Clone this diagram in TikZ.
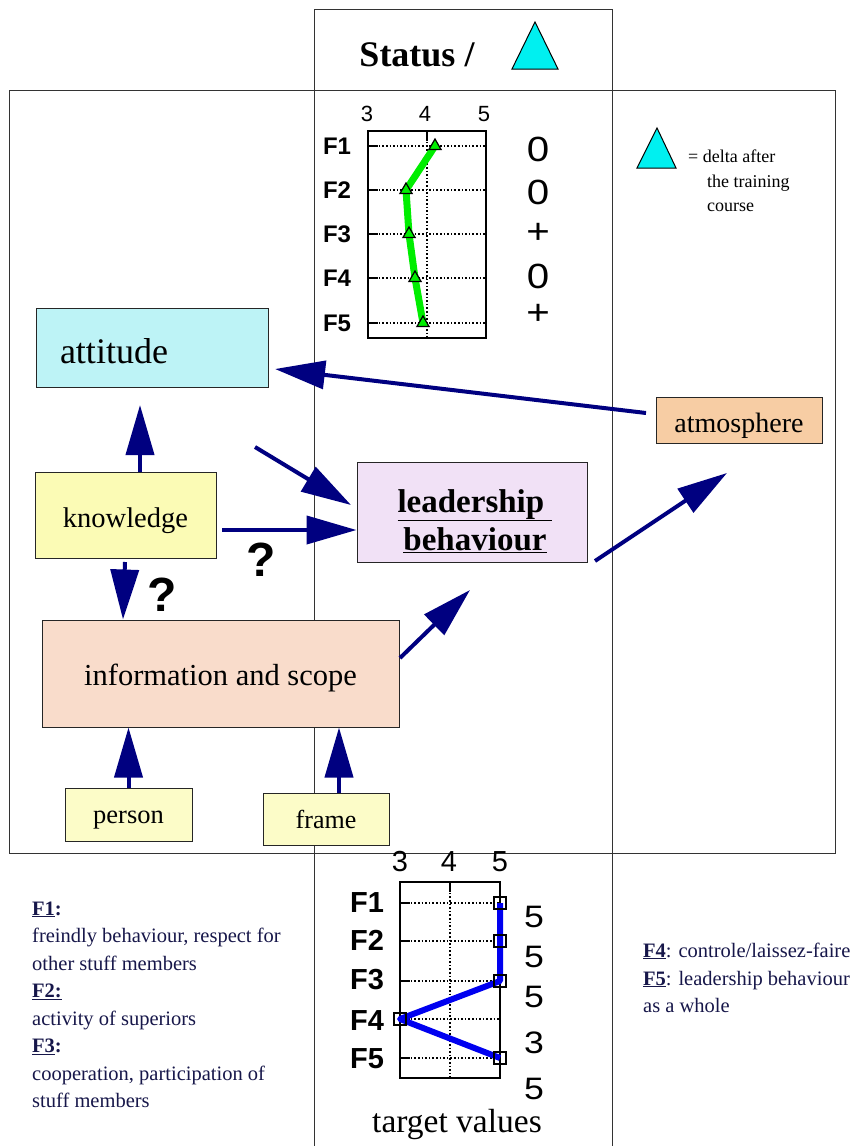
\documentclass[tikz,border=0pt]{standalone}
\usepackage{fontspec}
\usepackage{graphicx}
\setmainfont{Liberation Serif}
\newfontfamily\sansf{Liberation Sans}
\usetikzlibrary{arrows.meta,shapes.geometric}
\definecolor{navy}{HTML}{000080}
\definecolor{legtext}{HTML}{17174A}
\definecolor{attfill}{HTML}{BDF3F6}
\definecolor{knowfill}{HTML}{FBFBB5}
\definecolor{infofill}{HTML}{F9DCCB}
\definecolor{leadfill}{HTML}{F1E1F6}
\definecolor{atmofill}{HTML}{F7CDA4}
\definecolor{smallfill}{HTML}{FCFCC8}
\definecolor{tricyan}{HTML}{00F0F0}
\definecolor{plotgreen}{HTML}{00EE00}
\definecolor{plotblue}{HTML}{0000F0}
\newcommand{\wide}[1]{\scalebox{1.15}[1]{#1}}
\begin{document}
\begin{tikzpicture}[x=1pt,y=-1pt,
  frameline/.style={draw=black!80, line width=1pt},
  box/.style={draw=black!85, line width=1pt, inner sep=0pt, align=center, text depth=0pt},
  arr/.style={draw=navy, line width=4pt, -{Triangle[length=50pt,width=28pt]}},
  gridl/.style={line width=1.2pt, dash pattern=on 1.6pt off 2pt},
  tickl/.style={line width=1.2pt},
  axbox/.style={draw, line width=1.5pt},
  flabA/.style={font=\sansf\bfseries\fontsize{24}{24}\selectfont, inner sep=0pt},
  flabB/.style={font=\sansf\bfseries\fontsize{29}{29}\selectfont, inner sep=0pt},
  numA/.style={font=\sansf\fontsize{22}{22}\selectfont, inner sep=0pt},
  numB/.style={font=\sansf\fontsize{29}{29}\selectfont, inner sep=0pt},
  valA/.style={font=\sansf\fontsize{35}{35}\selectfont, inner sep=0pt},
  valB/.style={font=\sansf\fontsize{31}{31}\selectfont, inner sep=0pt},
  tri/.style={regular polygon, regular polygon sides=3, draw=black, fill=plotgreen, line width=1.2pt, minimum size=14pt, inner sep=0pt},
  sq/.style={rectangle, draw=black, line width=1.3pt, minimum size=12pt, inner sep=0pt},
  qmark/.style={font=\sansf\bfseries\fontsize{48}{48}\selectfont, inner sep=0pt},
  legl/.style={anchor=base west, inner sep=0pt, text=legtext, font=\fontsize{20.5}{24}\selectfont},
  deltal/.style={anchor=base west, inner sep=0pt, font=\fontsize{18}{20}\selectfont}
]
\useasboundingbox (0,0) rectangle (850,1146);
\fill[white] (0,0) rectangle (850,1146);

% frame lines
\draw[frameline] (9,90) rectangle (835,853);
\draw[frameline] (314,1146) -- (314,9) -- (612,9) -- (612,1146);

% title
\node[inner sep=0pt, font=\bfseries\fontsize{36}{36}\selectfont] (title) at (417,55) {Status /};
\filldraw[fill=tricyan, draw=black, line width=1pt] (512,69) -- (558,69) -- (535,22) -- cycle;

% legend
\filldraw[fill=tricyan, draw=black, line width=1pt] (637,168) -- (676,168) -- (657,128) -- cycle;
\node[deltal] (d1) at (688,162) {= delta after};
\node[deltal] (d2) at (707,187) {the training};
\node[deltal] (d3) at (707,211) {course};

% ---------- top chart ----------
\draw[axbox] (368,131) rectangle (486,338);
\foreach \yy in {146,190,234,278,323}{
  \draw[gridl] (368,\yy) -- (486,\yy);
  \draw[tickl] (368,\yy) -- (378,\yy);
}
\draw[gridl] (427,131) -- (427,338);
\draw[tickl] (427,131) -- (427,141);
\node[numA] (ta3) at (367,114) {3};
\node[numA] (ta4) at (425,114) {4};
\node[numA] (ta5) at (484,114) {5};
\node[flabA] (tf1) at (337,146) {F1};
\node[flabA] (tf2) at (337,190) {F2};
\node[flabA] (tf3) at (337,234) {F3};
\node[flabA] (tf4) at (337,278) {F4};
\node[flabA] (tf5) at (337,323) {F5};
\node[valA] (tv1) at (538,149) {\wide{0}};
\node[valA] (tv2) at (538,192) {\wide{0}};
\node[valA] (tv3) at (538,233) {\wide{+}};
\node[valA] (tv4) at (538,276) {\wide{0}};
\node[valA] (tv5) at (538,314) {\wide{+}};
\coordinate (g1) at (435,146);
\coordinate (g2) at (406,190);
\coordinate (g3) at (409,234);
\coordinate (g4) at (415,278);
\coordinate (g5) at (423,323);
\draw[plotgreen, line width=7pt, line join=round] (g1) -- (g2) -- (g3) -- (g4) -- (g5);
\node[tri] (m1) at (g1) {};
\node[tri] (m2) at (g2) {};
\node[tri] (m3) at (g3) {};
\node[tri] (m4) at (g4) {};
\node[tri] (m5) at (g5) {};

% ---------- bottom chart ----------
\draw[axbox] (400,882) rectangle (500,1078);
\foreach \yy in {903,941,981,1019,1058}{
  \draw[gridl] (400,\yy) -- (500,\yy);
  \draw[tickl] (400,\yy) -- (410,\yy);
}
\draw[gridl] (450,882) -- (450,1078);
\draw[tickl] (450,882) -- (450,892);
\node[numB] (ba3) at (400,862) {3};
\node[numB] (ba4) at (449,862) {4};
\node[numB] (ba5) at (500,862) {5};
\node[flabB] (bf1) at (367,903) {F1};
\node[flabB] (bf2) at (367,940) {F2};
\node[flabB] (bf3) at (367,980) {F3};
\node[flabB] (bf4) at (367,1021) {F4};
\node[flabB] (bf5) at (367,1059) {F5};
\node[valB] (bv1) at (534,917) {\wide{5}};
\node[valB] (bv2) at (534,957) {\wide{5}};
\node[valB] (bv3) at (534,997) {\wide{5}};
\node[valB] (bv4) at (534,1043) {\wide{3}};
\node[valB] (bv5) at (534,1089) {\wide{5}};
\coordinate (b1) at (500,903);
\coordinate (b2) at (500,941);
\coordinate (b3) at (500,981);
\coordinate (b4) at (400,1019);
\coordinate (b5) at (500,1058);
\draw[plotblue, line width=6pt, line join=round] (b1) -- (b2) -- (b3) -- (b4) -- (b5);
\node[sq] (q1) at (b1) {};
\node[sq] (q2) at (b2) {};
\node[sq] (q3) at (b3) {};
\node[sq] (q4) at (b4) {};
\node[sq] (q5) at (b5) {};
\node[anchor=base, inner sep=0pt, font=\fontsize{33.5}{34}\selectfont] (target) at (457,1132) {target values};

% ---------- boxes ----------
\node[box, fill=attfill, minimum height=79pt, text width=184pt, inner xsep=24pt, align=left,
      text height=31pt, font=\fontsize{36}{36}\selectfont] (attitude) at (152,347.5) {attitude};
\node[box, fill=knowfill, minimum width=181pt, minimum height=86pt, text height=24pt,
      font=\fontsize{28.5}{30}\selectfont] (knowledge) at (125.5,515) {knowledge};
\node[box, fill=infofill, minimum width=357pt, minimum height=107pt, text height=23pt,
      font=\fontsize{30.5}{32}\selectfont] (info) at (220.5,673.5) {information and scope};
\node[box, fill=smallfill, minimum width=127pt, minimum height=53pt, text height=17pt,
      font=\fontsize{26.5}{28}\selectfont] (person) at (128.5,814.5) {person};
\node[box, fill=smallfill, minimum width=126pt, minimum height=52pt, text height=18pt,
      font=\fontsize{26}{28}\selectfont] (frame) at (326,819) {frame};
\node[box, fill=leadfill, minimum width=230pt, minimum height=100pt] (lead) at (472,512) {};
\node[inner sep=0pt, align=center, font=\bfseries\fontsize{33}{38}\selectfont]
      (leadtext) at (475,521) {\underline{leadership\ }\\\underline{behaviour}};
\node[box, fill=atmofill, minimum width=166pt, minimum height=46pt, text height=24pt,
      font=\fontsize{28}{30}\selectfont] (atmo) at (739,420) {atmosphere};

% ---------- arrows ----------
\coordinate (t1) at (140,405);
\draw[arr] (knowledge.north -| t1) -- (t1);
\coordinate (s2) at (255,447);
\coordinate (t2) at (351,505);
\draw[arr] (s2) -- (t2);
\coordinate (s3) at (222,530);
\draw[arr] (s3) -- (s3 -| lead.west);
\coordinate (s4) at (125,562);
\coordinate (t4) at (123,620);
\draw[arr] (s4) -- (t4 |- info.north);
\coordinate (s6) at (400,658);
\coordinate (t6) at (470,590);
\draw[arr] (s6) -- (t6);
\draw[arr] (person.north) -- (person.north |- info.south);
\coordinate (s8) at (339,793);
\draw[arr] (s8) -- (s8 |- info.south);
\coordinate (s9) at (595,561);
\coordinate (t9) at (727,473);
\draw[arr] (s9) -- (t9);
\coordinate (s10) at (646,413);
\coordinate (t10) at (275,369);
\draw[arr] (s10) -- (t10);

% question marks
\node[qmark] (q1m) at (162,595) {?};
\node[qmark] (q2m) at (261,560) {?};

% ---------- bottom texts ----------
\node[legl] (l1) at (32,915) {\textbf{\underline{F1}:}};
\node[legl] (l2) at (32,942.5) {freindly behaviour, respect for};
\node[legl] (l3) at (32,970) {other stuff members};
\node[legl] (l4) at (32,997) {\textbf{\underline{F2:}}};
\node[legl] (l5) at (32,1025) {activity of superiors};
\node[legl] (l6) at (32,1052.5) {\textbf{\underline{F3}:}};
\node[legl] (l7) at (32,1080) {cooperation, participation of};
\node[legl] (l8) at (32,1107) {stuff members};
\node[legl] (r1) at (643,957) {\textbf{\underline{F4}}: controle/laissez-faire};
\node[legl] (r2) at (643,985) {\textbf{\underline{F5}}: leadership behaviour};
\node[legl] (r3) at (643,1012) {as a whole};
\end{tikzpicture}
\end{document}
